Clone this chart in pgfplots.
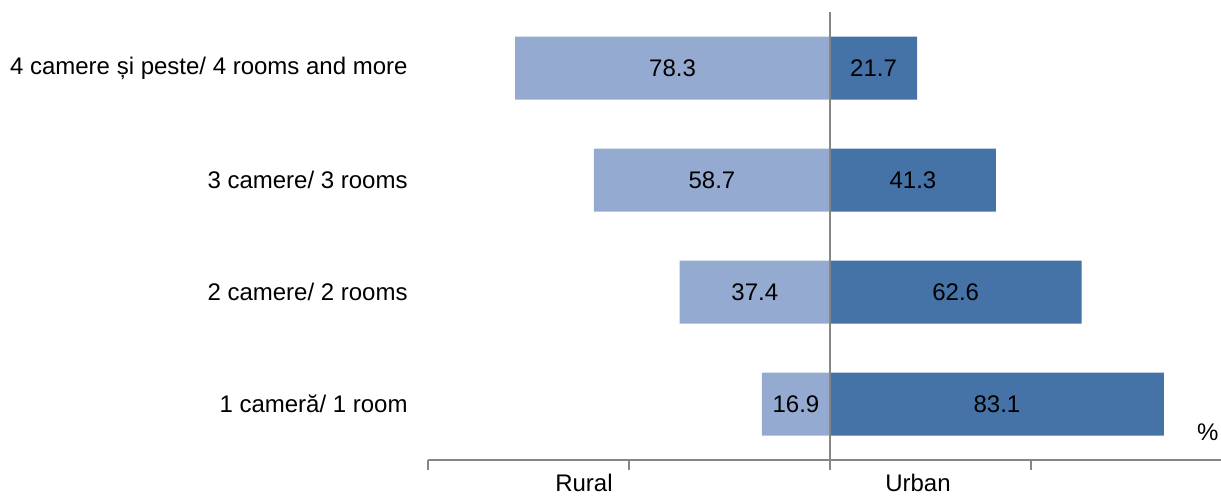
\documentclass[border=0pt]{standalone}
\usepackage{fontspec}
\setmainfont{Liberation Sans}
\usepackage{pgfplots}
\pgfplotsset{compat=1.18}
\definecolor{ruralc}{RGB}{149,170,209}
\definecolor{urbanc}{RGB}{69,114,167}
\definecolor{axgray}{RGB}{134,134,134}
\begin{document}
\begin{tikzpicture}[font=\fontsize{12}{14}\selectfont]
\begin{axis}[
 at={(0,0)}, anchor=south west,
 scale only axis, width=396.5pt, height=224pt,
 xmin=-100, xmax=97.3, ymin=0.5, ymax=4.5,
 axis x line*=bottom, axis y line*=left,
 x axis line style={axgray, line width=1pt, -},
 y axis line style={draw=none},
 xtick={-100,-50,0,50}, xticklabels={},
 x tick style={axgray, line width=1pt},
 tick align=outside, major tick length=5pt,
 ytick={1,2,3,4},
 yticklabels={1 cameră/ 1 room, 2 camere/ 2 rooms, 3 camere/ 3 rooms, 4 camere și peste/ 4 rooms and more},
 y tick style={draw=none},
 yticklabel style={inner sep=0pt, xshift=-5pt, anchor=east},
 clip=false,
]
\addplot[xbar, bar width=31.5pt, bar shift=0pt, fill=ruralc, draw=none] coordinates {(-78.3,4) (-58.7,3) (-37.4,2) (-16.9,1)};
\addplot[xbar, bar width=31.5pt, bar shift=0pt, fill=urbanc, draw=none] coordinates {(21.7,4) (41.3,3) (62.6,2) (83.1,1)};
\addplot[draw=none, mark=none, nodes near coords, point meta=explicit symbolic,
  nodes near coords style={anchor=center, inner sep=0pt}] coordinates {(-39.15,4)[78.3] (-29.35,3)[58.7] (-18.7,2)[37.4] (-8.45,1)[16.9]};
\addplot[draw=none, mark=none, nodes near coords, point meta=explicit symbolic,
  nodes near coords style={anchor=center, inner sep=0pt}] coordinates {(10.85,4)[21.7] (20.65,3)[41.3] (31.3,2)[62.6] (41.55,1)[83.1]};
\draw[axgray, line width=1pt] (axis cs:0,0.5) -- (axis cs:0,4.5);
\node at (axis cs:-61.2,0.5) [yshift=-11.5pt] {Rural};
\node at (axis cs:21.9,0.5) [yshift=-11.5pt] {Urban};
\node at (axis cs:94.0,0.75) {\%};
\end{axis}
\pgfresetboundingbox
\path[use as bounding box] (-214pt,-20pt) rectangle (396.5pt,230pt);
\end{tikzpicture}
\end{document}
